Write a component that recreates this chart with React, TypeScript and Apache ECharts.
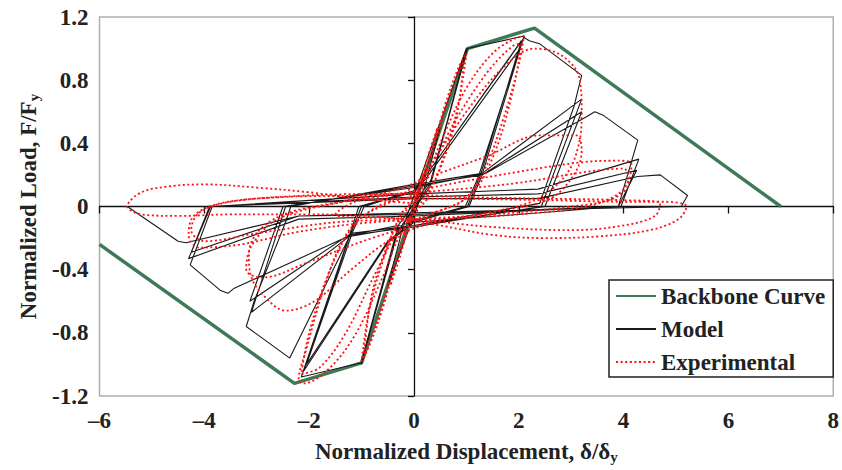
import React, { useEffect, useRef } from "react";
import * as echarts from "echarts";

// ---------- data ----------
const xTicks = [-6, -4, -2, 0, 2, 4, 6, 8];
const yTicks = [-1.2, -0.8, -0.4, 0, 0.4, 0.8, 1.2];

const backbone: number[][] = [
  [-6, -0.24], [-2.28, -1.12], [-1.0, -0.99], [0, 0], [1.02, 1.0], [2.3, 1.13], [7.0, 0],
];

// Model (analytical hysteresis) - cycles
const modelCycle1: number[][] = [
  [0, 0], [0.5, 0.5], [0.2, 0.12], [-0.5, -0.5], [-0.2, -0.12],
  [1.0, 1.0], [0.35, 0.18], [-0.3, -0.12], [-1.0, -1.0], [-0.35, -0.18],
  [0.3, 0.12], [1.0, 0.98], [0.35, 0.18], [-0.3, -0.12], [-1.0, -0.98], [-0.35, -0.18],
];
const modelCycle2: number[][] = [
  [0.3, 0.14], [1.02, 1.0], [2.1, 1.08], [1.3, 0.2], [1.05, 0.0], [0, -0.1], [-0.3, -0.15],
  [-1.0, -0.99], [-2.15, -1.08], [-1.25, -0.2], [-1.05, 0], [0, 0.1], [0.28, 0.22],
  [2.05, 1.05], [1.27, 0.2], [1.02, 0], [0, -0.1], [-0.5, -0.23], [-2.1, -1.04],
  [-1.22, -0.18], [-1.0, 0], [0, 0.09], [0.28, 0.2], [2.02, 1.0], [1.22, 0.18],
  [0.98, 0], [0, -0.09], [-0.5, -0.22], [-2.05, -1.0], [-1.17, -0.16], [-0.95, 0], [0, 0.1],
];
const modelCycle3: number[][] = [
  [0.28, 0.22], [2.1, 1.07], [2.2, 1.05], [2.4, 1.03], [3.2, 0.83], [3.05, 0.63], [2.4, 0.02],
  [0, -0.12], [-1.23, -0.19], [-2.37, -0.96], [-3.2, -0.76], [-3.05, -0.6], [-2.45, -0.1],
  [-2.35, 0], [0, 0.14], [1.3, 0.21], [3.2, 0.68], [2.43, 0], [0, -0.13], [-1.2, -0.18],
  [-3.1, -0.67], [-2.45, 0], [0, 0.13], [1.3, 0.2], [3.2, 0.6], [2.5, 0], [0, -0.12],
  [-1.2, -0.17], [-3.13, -0.6], [-2.5, 0],
];
const modelCycle4: number[][] = [
  [0, 0.12], [1.37, 0.21], [3.3, 0.57], [3.45, 0.6], [3.6, 0.58], [4.27, 0.42], [3.9, 0],
  [2.4, -0.04], [0, -0.1], [-1.2, -0.18], [-3.44, -0.52], [-3.55, -0.55], [-3.7, -0.53],
  [-4.27, -0.37], [-3.85, 0], [0, 0.08], [2.37, 0.11], [4.29, 0.3], [3.95, 0], [0, -0.06],
  [-2.2, -0.08], [-4.3, -0.33], [-3.88, 0], [0, 0.06], [2.37, 0.08], [4.25, 0.23], [3.9, 0],
  [0, -0.05], [-2.2, -0.06], [-4.25, -0.29], [-3.9, 0],
];
const modelCycle5: number[][] = [
  [0, 0.05], [2.37, 0.05], [4.27, 0.19], [4.7, 0.2], [5.22, 0.07], [5.1, 0], [2.4, -0.02],
  [0, -0.04], [-2.2, -0.06], [-4.35, -0.23], [-4.5, -0.22], [-5.47, 0],
];

// Experimental (test data) - cycles
const expCycle1: number[][] = [
  [0, 0], [0.25, 0.3], [0.45, 0.5], [0.3, 0.3], [0, 0.02], [-0.25, -0.3], [-0.45, -0.5],
  [-0.3, -0.3], [0, -0.02], [0.3, 0.3], [0.6, 0.65], [0.85, 0.88], [1.0, 0.97], [0.85, 0.65],
  [0.55, 0.3], [0.25, 0.05], [0, -0.05], [-0.3, -0.3], [-0.6, -0.65], [-0.85, -0.88],
  [-1.0, -0.98], [-0.85, -0.65], [-0.55, -0.3], [-0.25, -0.05], [0, 0.05],
  [0.35, 0.35], [0.7, 0.72], [0.95, 0.92], [0.8, 0.55], [0.45, 0.2], [0.1, 0.0],
  [-0.35, -0.35], [-0.7, -0.72], [-0.95, -0.93], [-0.8, -0.55], [-0.45, -0.2], [-0.1, 0.0],
];
const expCycle2: number[][] = [
  [0.2, 0.15], [0.5, 0.4], [1.0, 0.75], [1.5, 0.97], [1.9, 1.06], [2.1, 1.08], [2.0, 0.9],
  [1.7, 0.55], [1.3, 0.2], [0.9, 0.03], [0.3, -0.05], [-0.2, -0.15], [-0.6, -0.45],
  [-1.1, -0.8], [-1.6, -1.02], [-2.1, -1.12], [-2.2, -1.1], [-2.05, -0.9], [-1.7, -0.5],
  [-1.3, -0.18], [-0.8, -0.02], [-0.2, 0.08], [0.3, 0.25], [0.8, 0.55], [1.4, 0.85],
  [1.9, 1.02], [2.05, 1.03], [1.9, 0.75], [1.55, 0.35], [1.1, 0.08], [0.4, -0.04],
  [-0.2, -0.12], [-0.7, -0.4], [-1.3, -0.8], [-1.8, -1.02], [-2.15, -1.06], [-2.0, -0.8],
  [-1.6, -0.4], [-1.1, -0.1], [-0.5, 0.02], [0, 0.08],
];
const expCycle3: number[][] = [
  [0.4, 0.3], [1.0, 0.6], [1.7, 0.88], [2.3, 1.0], [2.8, 0.96], [3.15, 0.82], [3.2, 0.6],
  [3.15, 0.4], [2.9, 0.2], [2.3, 0.04], [1.4, -0.04], [0.4, -0.1], [-0.4, -0.2],
  [-1.2, -0.4], [-1.9, -0.6], [-2.45, -0.66], [-2.85, -0.57], [-3.1, -0.45], [-3.15, -0.3],
  [-2.95, -0.15], [-2.4, -0.04], [-1.4, 0.03], [-0.4, 0.1], [0.4, 0.2], [1.4, 0.32],
  [2.4, 0.45], [3.1, 0.45], [3.2, 0.35], [3.05, 0.2], [2.6, 0.05], [1.6, -0.03],
  [0.3, -0.1], [-0.8, -0.2], [-2.0, -0.35], [-2.9, -0.45], [-3.2, -0.4], [-3.1, -0.25],
  [-2.6, -0.08], [-1.5, 0.02], [-0.3, 0.08],
];
const expCycle4: number[][] = [
  [0.8, 0.15], [2.0, 0.22], [3.2, 0.28], [3.9, 0.29], [4.15, 0.27], [4.1, 0.17], [3.9, 0.08],
  [3.3, 0.0], [2.0, -0.05], [0.5, -0.08], [-0.8, -0.1], [-2.2, -0.16], [-3.3, -0.24],
  [-4.1, -0.26], [-4.3, -0.18], [-4.2, -0.06], [-3.7, 0.02], [-2.5, 0.06], [-1.0, 0.07],
  [0.5, 0.1], [2.0, 0.15], [3.3, 0.22], [4.0, 0.24], [4.1, 0.15], [3.8, 0.05], [3.0, 0.0],
  [1.5, -0.05], [0, -0.08], [-1.5, -0.1], [-3.0, -0.17], [-4.0, -0.22], [-4.25, -0.15],
  [-4.1, -0.04], [-3.5, 0.03], [-2.0, 0.07], [-0.5, 0.08],
];
const expCycle5: number[][] = [
  [1.0, 0.06], [2.5, 0.05], [4.0, 0.04], [4.7, 0.02], [4.6, -0.06], [4.0, -0.12],
  [3.0, -0.15], [1.5, -0.13], [0, -0.08], [-1.5, -0.05], [-1.0, 0.04], [0.5, 0.05],
  [2.5, 0.04], [4.0, 0.03], [4.8, 0.03], [5.2, 0.0], [5.05, -0.08], [4.5, -0.15],
  [3.5, -0.19], [2.5, -0.2], [1.5, -0.18], [0.5, -0.12], [-0.5, -0.07], [-2.0, -0.05],
  [-3.5, -0.05], [-4.5, -0.06], [-5.2, -0.05], [-5.47, 0], [-5.2, 0.09], [-4.6, 0.13],
  [-4.0, 0.14], [-3.0, 0.12], [-2.0, 0.09], [-1.0, 0.05], [0, 0.02],
];

const modelData = [...modelCycle1, ...modelCycle2, ...modelCycle3, ...modelCycle4, ...modelCycle5];
const expData = [...expCycle1, ...expCycle2, ...expCycle3, ...expCycle4, ...expCycle5];

const FONT = "'Liberation Serif', 'Times New Roman', serif";
const TXT = "#222";

export default function App() {
  const ref = useRef<HTMLDivElement>(null);
  useEffect(() => {
    if (!ref.current) return;
    const chart = echarts.init(ref.current, null, { renderer: "svg" });
    const labelStyle = { fontFamily: FONT, fontSize: 23, fontWeight: "bold" as const, color: TXT };
    chart.setOption({
      animation: false,
      backgroundColor: "#fff",
      grid: {
        left: 99.5, right: 5, top: 17, bottom: 74,
        show: true, borderColor: "#b0b0b0", borderWidth: 1.5,
      },
      legend: {
        orient: "vertical",
        left: 609,
        top: 280,
        padding: [4, 8, 3, 6],
        itemWidth: 40,
        itemHeight: 14,
        itemGap: 9,
        borderColor: "#222",
        borderWidth: 1.5,
        backgroundColor: "#fff",
        itemStyle: { opacity: 0 },
        textStyle: { ...labelStyle, lineHeight: 24 },
        data: ["Backbone Curve", "Model", "Experimental"],
      },
      xAxis: [
        {
          type: "value", min: -6, max: 8, interval: 2, position: "bottom",
          axisLine: { show: false, onZero: false },
          axisTick: { show: false },
          splitLine: { show: false },
          axisLabel: {
            ...labelStyle, margin: 13,
            formatter: (v: number) => (v < 0 ? "\u2013" + Math.abs(v) : String(v)),
          },
          name: "{m|Normalized Displacement, \u03b4/\u03b4}{s|y}",
          nameLocation: "middle",
          nameGap: 41,
          nameTextStyle: {
            rich: {
              m: { ...labelStyle, lineHeight: 26 },
              s: { ...labelStyle, fontSize: 15, lineHeight: 15, padding: [13, 0, 0, 0], verticalAlign: "bottom" },
            },
          },
        },
        {
          type: "value", min: -6, max: 8, interval: 2, position: "bottom",
          axisLine: { show: true, onZero: true, onZeroAxisIndex: 0, lineStyle: { color: "#111", width: 1.3 } },
          axisTick: { show: true, length: 7, lineStyle: { color: "#111", width: 1.3 } },
          axisLabel: { show: false },
          splitLine: { show: false },
        },
      ],
      yAxis: [
        {
          type: "value", min: -1.2, max: 1.2, interval: 0.4, position: "left",
          axisLine: { show: false, onZero: false },
          axisTick: { show: false },
          splitLine: { show: false },
          axisLabel: {
            ...labelStyle, margin: 11,
            formatter: (v: number) => (Math.abs(v) < 1e-9 ? "0" : v.toFixed(1)),
          },
          name: "{m|Normalized Load, F/F}{s|y}",
          nameLocation: "middle",
          nameGap: 58,
          nameTextStyle: {
            rich: {
              m: { ...labelStyle, lineHeight: 26 },
              s: { ...labelStyle, fontSize: 15, lineHeight: 15, padding: [13, 0, 0, 0], verticalAlign: "bottom" },
            },
          },
        },
        {
          type: "value", min: -1.2, max: 1.2, interval: 0.4, position: "left",
          axisLine: { show: true, onZero: true, onZeroAxisIndex: 0, lineStyle: { color: "#111", width: 1.3 } },
          axisTick: { show: true, length: 6, lineStyle: { color: "#111", width: 1.3 } },
          axisLabel: { show: false },
          splitLine: { show: false },
        },
      ],
      series: [
        {
          name: "Backbone Curve", type: "line", data: backbone, symbol: "none",
          lineStyle: { color: "#3f7a58", width: 3.5 }, itemStyle: { color: "#3f7a58" }, z: 2,
        },
        {
          name: "Model", type: "line", data: modelData, symbol: "none",
          lineStyle: { color: "#1a1a1a", width: 1.1 }, itemStyle: { color: "#1a1a1a" }, z: 3,
        },
        {
          name: "Experimental", type: "line", data: expData, symbol: "none", smooth: 0.35,
          lineStyle: { color: "#ff1010", width: 1.8, type: [2, 2.6] }, itemStyle: { color: "#ff1010" }, z: 4,
        },
      ],
    });
    return () => chart.dispose();
  }, []);
  return (
    <div
      ref={ref}
      style={{ position: "absolute", left: 0, top: 0, width: 842, height: 470, background: "#fff" }}
    />
  );
}
